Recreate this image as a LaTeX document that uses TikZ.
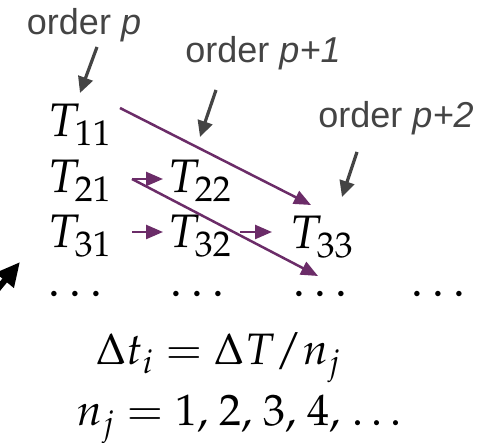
\documentclass[tikz,border=0pt]{standalone}
\usepackage{mathpazo}
\usepackage[no-math]{fontspec}
\newfontfamily\labfont{Liberation Sans}
\usetikzlibrary{arrows.meta}
\definecolor{plum}{RGB}{107,44,104}
\definecolor{labgray}{RGB}{68,68,68}
\tikzset{
  tnode/.style={inner sep=0pt, outer sep=0pt, anchor=base west, text height=34pt, text depth=6pt, font=\fontsize{47}{50}\selectfont},
  eqnode/.style={inner sep=0pt, outer sep=0pt, anchor=base west, font=\fontsize{44}{48}\selectfont},
  labnode/.style={inner sep=0pt, outer sep=0pt, anchor=base, text=labgray, font=\labfont\fontsize{36}{40}\selectfont},
  grayarrow/.style={draw=labgray, line width=3.2pt, -{Triangle[length=16pt,width=15pt]}},
  plumarrow/.style={draw=plum, fill=plum, line width=2.5pt, -{Triangle[length=17pt,width=14pt]}},
  bigarrow/.style={draw=black, line width=6pt, -{Triangle[length=24pt,width=22pt]}}
}
\begin{document}
\begin{tikzpicture}[x=1pt,y=-1pt]
\useasboundingbox (0,0) rectangle (485,443);
\clip (0,0) rectangle (485,443);
% labels
\node[labnode] (lp)  at (84,35)  {order {\itshape p}};
\node[labnode] (lp1) at (263,63) {order {\itshape p+1}};
\node[labnode] (lp2) at (396,128) {order {\itshape p+2}};
% table
\node[tnode] (t11) at (48,137) {$T_{11}$};
\node[tnode] (t21) at (48,193) {$T_{21}$};
\node[tnode] (t22) at (168,193) {$T_{22}$};
\node[tnode] (t31) at (48,248) {$T_{31}$};
\node[tnode] (t32) at (168,248) {$T_{32}$};
\node[tnode] (t33) at (290,249) {$T_{33}$};
\node[tnode] (d1) at (48,297) {$\dots$};
\node[tnode] (d2) at (170,297) {$\dots$};
\node[tnode] (d3) at (293,297) {$\dots$};
\node[tnode] (d4) at (411,297) {$\dots$};
% equations
\node[eqnode] (eq1) at (96,365) {$\Delta t_i = \Delta T/n_j$};
\node[eqnode] (eq2) at (77,426) {$n_j = 1,\mskip1.5mu2,\mskip1.5mu3,\mskip1.5mu4,\mskip1.5mu\dots$};
% gray arrows
\draw[grayarrow] ([shift={(13,12)}]lp.base) -- ([shift={(32,-44)}]t11.base west);
\draw[grayarrow] ([shift={(-47,27)}]lp1.base) -- ([shift={(32,-56)}]t22.base west);
\draw[grayarrow] ([shift={(-39,24)}]lp2.base) -- ([shift={(52,-52)}]t33.base west);
% plum arrows
\draw[plumarrow] ([shift={(72,-29)}]t11.base west) -- ([shift={(21,-44)}]t33.base west);
\draw[plumarrow] ([shift={(84,-14)}]t21.base west) -- ([shift={(25,-21)}]d3.base west);
\draw[plumarrow] ([shift={(84,-14)}]t21.base west) -- ([shift={(-5,-14)}]t22.base west);
\draw[plumarrow] ([shift={(84,-16)}]t31.base west) -- ([shift={(-5,-16)}]t32.base west);
\draw[plumarrow] ([shift={(72,-16)}]t32.base west) -- ([shift={(-18,-17)}]t33.base west);
% black arrow at the left edge
\coordinate (b0) at (-18,308);
\coordinate (b1) at (20,262);
\draw[bigarrow] (b0) -- (b1);
\end{tikzpicture}
\end{document}
